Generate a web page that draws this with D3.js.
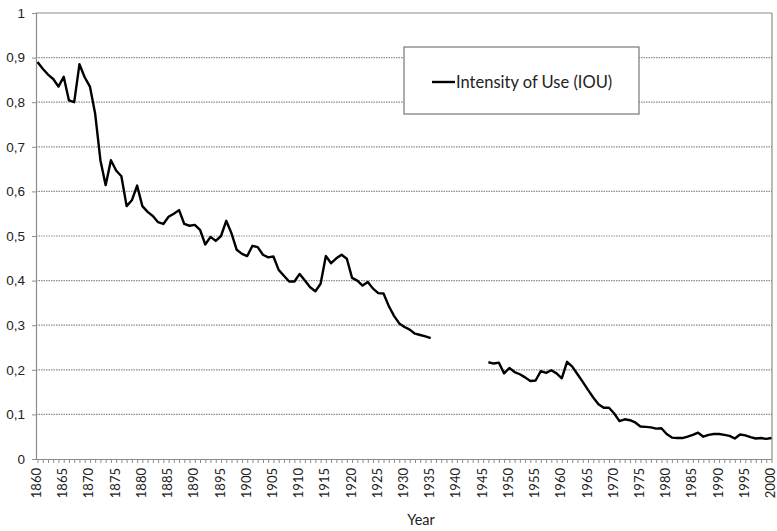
<!DOCTYPE html>
<html><head><meta charset="utf-8">
<script src="https://cdn.jsdelivr.net/npm/d3@7/dist/d3.min.js"></script>
<style>
html,body{margin:0;padding:0;background:#fff;}
svg{display:block;font-family:Lato, "Open Sans", sans-serif;}
</style></head>
<body><svg id="c" width="777" height="531"></svg>
<script>
const years1 = d3.range(1860, 1936);
const iou1 = [0.890,0.875,0.862,0.852,0.835,0.857,0.804,0.800,0.885,0.856,
 0.835,0.774,0.670,0.614,0.670,0.647,0.634,0.567,0.580,0.613,
 0.567,0.554,0.545,0.531,0.527,0.543,0.550,0.558,0.527,0.523,
 0.525,0.514,0.481,0.498,0.489,0.500,0.534,0.506,0.469,0.460,
 0.455,0.478,0.475,0.458,0.452,0.454,0.424,0.411,0.398,0.398,
 0.415,0.400,0.385,0.376,0.393,0.455,0.439,0.450,0.458,0.449,
 0.406,0.400,0.389,0.397,0.382,0.372,0.371,0.343,0.321,0.304,
 0.296,0.290,0.281,0.278,0.275,0.271];
const years2 = d3.range(1946, 2001);
const iou2 = [0.217,0.214,0.216,0.192,0.204,0.195,0.190,0.183,0.175,0.176,
 0.197,0.193,0.199,0.192,0.181,0.218,0.207,0.190,0.173,0.155,
 0.138,0.123,0.115,0.115,0.102,0.085,0.089,0.087,0.082,0.073,
 0.072,0.071,0.068,0.069,0.056,0.048,0.047,0.047,0.050,0.054,
 0.059,0.050,0.054,0.056,0.056,0.054,0.052,0.046,0.055,0.053,
 0.049,0.046,0.047,0.045,0.047];
const yTicks = [0,0.1,0.2,0.3,0.4,0.5,0.6,0.7,0.8,0.9,1];
const xLabelYears = d3.range(1860, 2001, 5);
const seriesName = "Intensity of Use (IOU)";
const xTitle = "Year";

const svg = d3.select("#c");
const L = 36, R = 772, T = 13, B = 459;
const x = d3.scaleLinear().domain([1860, 2000]).range([L + 1.5, R - 0.5]);
const y = d3.scaleLinear().domain([0, 1]).range([B, T]);

// gridlines
svg.append("g").selectAll("line").data(yTicks.filter(v => v > 0 && v < 1)).join("line")
  .attr("x1", L).attr("x2", R).attr("y1", d => y(d)).attr("y2", d => y(d))
  .attr("stroke", "#8c8c8c").attr("stroke-width", 1.2).attr("stroke-dasharray", "1.5,1");
// top and right frame
svg.append("line").attr("x1", L).attr("x2", R).attr("y1", y(1)).attr("y2", y(1))
  .attr("stroke", "#8c8c8c").attr("stroke-width", 1.2);
svg.append("line").attr("x1", R).attr("x2", R).attr("y1", T).attr("y2", B)
  .attr("stroke", "#8c8c8c").attr("stroke-width", 1.2);

// y axis
const fmt = v => v === 0 ? "0" : v === 1 ? "1" : d3.format(".1f")(v).replace(".", ",");
const yAxis = svg.append("g").attr("transform", `translate(${L},0)`)
  .call(d3.axisLeft(y).tickValues(yTicks).tickFormat(fmt).tickSize(4).tickPadding(7));
yAxis.select(".domain").attr("stroke", "#8c8c8c").attr("stroke-width", 1.2);
yAxis.selectAll(".tick line").attr("stroke", "#8c8c8c");
yAxis.selectAll("text").attr("font-size", 13.5).attr("fill", "#222");

// x axis: tick every year, labels every 5 years
const xAxis = svg.append("g").attr("transform", `translate(0,${B})`)
  .call(d3.axisBottom(x).tickValues(d3.range(1860, 2001)).tickSize(4).tickFormat(""));
xAxis.select(".domain").attr("stroke", "#8c8c8c").attr("stroke-width", 1.2)
  .attr("d", `M${L},0.5H${R}`);
xAxis.selectAll(".tick line").attr("stroke", "#8c8c8c");
svg.append("g").selectAll("text").data(xLabelYears).join("text")
  .attr("transform", d => `translate(${x(d) + 3.5},${B + 9}) rotate(-90)`)
  .attr("text-anchor", "end").attr("font-size", 13).attr("fill", "#222")
  .text(d => d);

svg.append("text").attr("x", 421).attr("y", 525).attr("text-anchor", "middle")
  .attr("font-size", 14.5).attr("fill", "#222").text(xTitle);

// lines
const line = d3.line().x(d => x(d[0])).y(d => y(d[1]));
[[years1, iou1], [years2, iou2]].forEach(([ys, vs]) => {
  svg.append("path").datum(ys.map((yr, i) => [yr, vs[i]]))
    .attr("d", line).attr("fill", "none").attr("stroke", "#000")
    .attr("stroke-width", 2.4).attr("stroke-linejoin", "round");
});

// legend
const lg = svg.append("g");
lg.append("rect").attr("x", 404).attr("y", 47).attr("width", 235).attr("height", 67)
  .attr("fill", "#fff").attr("stroke", "#777").attr("stroke-width", 1.2);
lg.append("line").attr("x1", 432).attr("x2", 455).attr("y1", 82).attr("y2", 82)
  .attr("stroke", "#000").attr("stroke-width", 2.4);
lg.append("text").attr("x", 456).attr("y", 87.5).attr("font-size", 16.5).attr("fill", "#222")
  .text(seriesName);
</script></body></html>
